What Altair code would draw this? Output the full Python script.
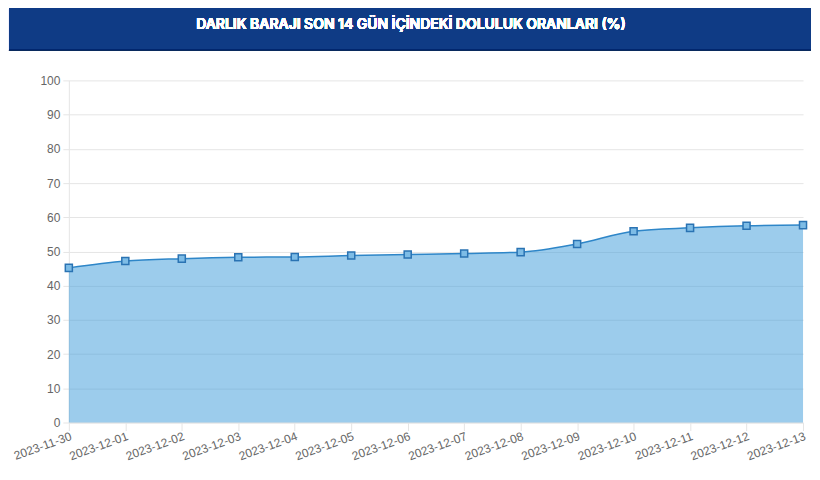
import altair as alt
import pandas as pd

dates = [
    "2023-11-30", "2023-12-01", "2023-12-02", "2023-12-03", "2023-12-04",
    "2023-12-05", "2023-12-06", "2023-12-07", "2023-12-08", "2023-12-09",
    "2023-12-10", "2023-12-11", "2023-12-12", "2023-12-13",
]
doluluk = [45.2, 47.2, 47.9, 48.3, 48.4, 48.8, 49.1, 49.4, 49.8, 52.2,
           55.9, 56.9, 57.5, 57.7]
y_ticks = list(range(0, 101, 10))
baslik = "DARLIK BARAJI SON 14 GÜN İÇİNDEKİ DOLULUK ORANLARI (%)"

df = pd.DataFrame({"tarih": dates, "oran": doluluk})

W, H = 736, 343

x = alt.X(
    "tarih:O",
    sort=dates,
    scale=alt.Scale(type="point", padding=0),
    axis=alt.Axis(
        title=None, labelAngle=340, labelAlign="right", labelBaseline="top",
        labelFont="Liberation Sans", labelFontSize=12, labelColor="#666666",
        tickSize=8, tickColor="#e5e5e5", gridColor="#e5e5e5",
        domainColor="#e5e5e5", labelPadding=0,
    ),
)
y = alt.Y(
    "oran:Q",
    scale=alt.Scale(domain=[0, 100], nice=False),
    axis=alt.Axis(
        title=None, values=y_ticks, labelFont="Liberation Sans",
        labelFontSize=12, labelColor="#666666", tickSize=6,
        tickColor="#e5e5e5", gridColor="#e5e5e5", domainColor="#e5e5e5",
        labelPadding=3,
    ),
)

base = alt.Chart(df).encode(x=x, y=y)

area = base.mark_area(color="#3A9AD9", opacity=0.5, interpolate="monotone")
line = base.mark_line(color="#2E86C8", strokeWidth=1.5, interpolate="monotone")
points = base.mark_point(
    shape="square", size=50, filled=True, fill="#7DBCE6", stroke="#2A73B3",
    strokeWidth=1.5, opacity=1,
)

header = alt.Chart(df).mark_rect(color="#0F3B85").encode(
    x=alt.value(-60), x2=alt.value(W + 8), y=alt.value(-72), y2=alt.value(-30)
)
header_line = alt.Chart(df).mark_rule(color="#0a2a5e", strokeWidth=1).encode(
    x=alt.value(-60), x2=alt.value(W + 8), y=alt.value(-30)
)
header_text = alt.Chart(df).mark_text(
    text=baslik, color="white", font="Inter", fontWeight=600, fontSize=14,
    align="center", baseline="middle",
).encode(x=alt.value(W / 2 - 25), y=alt.value(-56))

chart = (
    alt.layer(header, header_line, header_text, area, line, points)
    .properties(width=W, height=H, padding=0)
    .configure_view(stroke=None)
)

chart.save("out.html", embed_options={"renderer": "svg", "actions": False})
